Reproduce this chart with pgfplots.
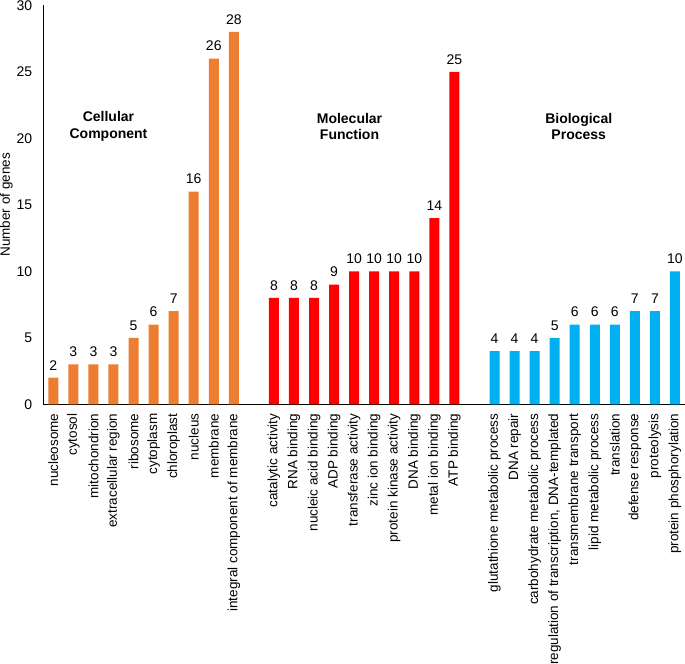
\documentclass[border=0pt]{standalone}
\usepackage{pgfplots}
\pgfplotsset{compat=1.18}
\usepackage{fontspec}
\setmainfont{Liberation Sans}
\definecolor{ccol}{HTML}{ED7D31}
\definecolor{mcol}{HTML}{FF0000}
\definecolor{bcol}{HTML}{00B0F0}
\begin{document}
\begin{tikzpicture}
\begin{axis}[
  at={(0,0)}, anchor=south west,
  scale only axis,
  width=641.7bp, height=399bp,
  xmin=-0.5, xmax=31.5,
  ymin=0, ymax=30,
  axis x line*=bottom, axis y line*=left,
  axis line style={black, line width=0.9bp},
  ytick={0,5,...,30},
  xtick={0,1,2,3,4,5,6,7,8,9,11,12,13,14,15,16,17,18,19,20,22,23,24,25,26,27,28,29,30,31},
  xticklabels={nucleosome,cytosol,mitochondrion,extracellular region,ribosome,cytoplasm,chloroplast,nucleus,membrane,integral component of membrane,
    catalytic activity,RNA binding,nucleic acid binding,ADP binding,transferase activity,zinc ion binding,protein kinase activity,DNA binding,metal ion binding,ATP binding,
    glutathione metabolic process,DNA repair,carbohydrate metabolic process,{regulation of transcription, DNA-templated},transmembrane transport,lipid metabolic process,translation,defense response,proteolysis,protein phosphorylation},
  major tick length=0pt,
  xticklabel style={rotate=90, anchor=east, font=\fontsize{13.5bp}{15bp}\selectfont, inner sep=0pt, xshift=0bp},
  yticklabel style={font=\fontsize{14bp}{16bp}\selectfont, inner sep=0pt, xshift=-11bp},
  /pgf/number format/assume math mode=true,
  xticklabel shift=9bp,
  ylabel={Number of genes},
  every axis y label/.style={at={(rel axis cs:0,0.5)}, xshift=-43.3bp, rotate=90, anchor=north, inner sep=0pt, font=\fontsize{13.5bp}{15bp}\selectfont},
  ybar, bar width=10bp,
  nodes near coords,
  every node near coord/.append style={font=\fontsize{14bp}{16bp}\selectfont, black, yshift=4bp},
  clip=false,
]
\addplot[bar shift=0pt, fill=ccol, draw=none] coordinates {
(0,2) (1,3) (2,3) (3,3) (4,5) (5,6) (6,7) (7,16) (8,26) (9,28)};
\addplot[bar shift=0pt, fill=mcol, draw=none] coordinates {
(11,8) (12,8) (13,8) (14,9) (15,10) (16,10) (17,10) (18,10) (19,14) (20,25)};
\addplot[bar shift=0pt, fill=bcol, draw=none] coordinates {
(22,4) (23,4) (24,4) (25,5) (26,6) (27,6) (28,6) (29,7) (30,7) (31,10)};
\node[font=\bfseries\fontsize{14bp}{16.3bp}\selectfont, align=center] at (axis cs:2.75,20.9) {Cellular\\Component};
\node[font=\bfseries\fontsize{14bp}{16.3bp}\selectfont, align=center] at (axis cs:14.77,20.9) {Molecular\\Function};
\node[font=\bfseries\fontsize{14bp}{16.3bp}\selectfont, align=center] at (axis cs:26.2,20.9) {Biological\\Process};
\end{axis}
\pgfresetboundingbox
\path (-43.3bp,-259.7bp) rectangle (641.7bp,404.3bp);
\end{tikzpicture}
\end{document}
